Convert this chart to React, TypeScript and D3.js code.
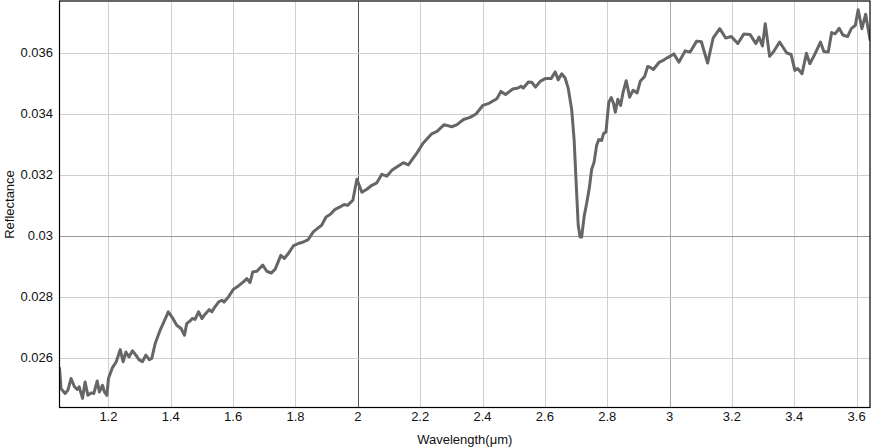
import React from "react";
import * as d3 from "d3";

const wavelength = [
  1.043, 1.048, 1.061, 1.070, 1.080, 1.091, 1.100, 1.106, 1.117, 1.125,
  1.134, 1.145, 1.153, 1.164, 1.171, 1.181, 1.187, 1.195, 1.200, 1.213,
  1.225, 1.238, 1.247, 1.256, 1.266, 1.277, 1.288, 1.298, 1.309, 1.320,
  1.331, 1.339, 1.350, 1.366, 1.380, 1.392, 1.405, 1.419, 1.433, 1.444,
  1.451, 1.462, 1.469, 1.478, 1.489, 1.500, 1.510, 1.523, 1.532, 1.540,
  1.553, 1.564, 1.571, 1.585, 1.601, 1.617, 1.633, 1.644, 1.654, 1.663,
  1.676, 1.695, 1.708, 1.722, 1.735, 1.753, 1.764, 1.777, 1.793, 1.809,
  1.825, 1.841, 1.857, 1.874, 1.884, 1.898, 1.911, 1.927, 1.943, 1.956,
  1.967, 1.984, 1.997, 2.013, 2.029, 2.045, 2.061, 2.077, 2.093, 2.109,
  2.146, 2.162, 2.187, 2.210, 2.237, 2.254, 2.277, 2.301, 2.317, 2.339,
  2.360, 2.379, 2.401, 2.421, 2.446, 2.459, 2.474, 2.497, 2.514, 2.524,
  2.531, 2.547, 2.558, 2.570, 2.585, 2.601, 2.620, 2.633, 2.643, 2.654,
  2.665, 2.675, 2.686, 2.694, 2.700, 2.707, 2.713, 2.718, 2.726, 2.734,
  2.743, 2.750, 2.758, 2.766, 2.773, 2.782, 2.788, 2.796, 2.805, 2.813,
  2.820, 2.826, 2.834, 2.843, 2.851, 2.861, 2.872, 2.883, 2.896, 2.906,
  2.920, 2.930, 2.941, 2.948, 2.966, 2.980, 2.994, 3.014, 3.030, 3.050,
  3.066, 3.087, 3.102, 3.122, 3.140, 3.161, 3.180, 3.198, 3.219, 3.238,
  3.258, 3.277, 3.287, 3.298, 3.307, 3.321, 3.334, 3.353, 3.376, 3.390,
  3.402, 3.411, 3.425, 3.439, 3.450, 3.467, 3.484, 3.495, 3.509, 3.520,
  3.531, 3.544, 3.556, 3.571, 3.583, 3.596, 3.605, 3.617, 3.629, 3.643,
];

const reflectance = [
  0.02565, 0.02498, 0.02482, 0.02493, 0.02531, 0.02504, 0.02495, 0.02504, 0.02466, 0.02520,
  0.02476, 0.02484, 0.02482, 0.02523, 0.02487, 0.02509, 0.02487, 0.02476, 0.02531, 0.02567,
  0.02586, 0.02626, 0.02586, 0.02618, 0.02602, 0.02622, 0.02608, 0.02593, 0.02586, 0.02608,
  0.02593, 0.02597, 0.02646, 0.02690, 0.02722, 0.02750, 0.02731, 0.02706, 0.02695, 0.02673,
  0.02711, 0.02720, 0.02728, 0.02725, 0.02750, 0.02728, 0.02742, 0.02757, 0.02750, 0.02764,
  0.02782, 0.02788, 0.02782, 0.02799, 0.02824, 0.02835, 0.02848, 0.02859, 0.02846, 0.02881,
  0.02883, 0.02903, 0.02883, 0.02877, 0.02890, 0.02935, 0.02925, 0.02941, 0.02966, 0.02974,
  0.02979, 0.02987, 0.03012, 0.03026, 0.03034, 0.03061, 0.03069, 0.03086, 0.03094, 0.03102,
  0.03099, 0.03116, 0.03185, 0.03142, 0.03152, 0.03165, 0.03173, 0.03201, 0.03195, 0.03214,
  0.03239, 0.03232, 0.03267, 0.03304, 0.03334, 0.03342, 0.03364, 0.03357, 0.03363, 0.03381,
  0.03388, 0.03399, 0.03427, 0.03434, 0.03449, 0.03473, 0.03463, 0.03481, 0.03484, 0.03490,
  0.03484, 0.03504, 0.03503, 0.03487, 0.03506, 0.03515, 0.03515, 0.03537, 0.03511, 0.03531,
  0.03517, 0.03483, 0.03414, 0.03312, 0.03181, 0.03034, 0.02995, 0.02995, 0.03063, 0.03105,
  0.03159, 0.03217, 0.03241, 0.03296, 0.03315, 0.03312, 0.03334, 0.03340, 0.03437, 0.03453,
  0.03434, 0.03405, 0.03447, 0.03427, 0.03471, 0.03508, 0.03454, 0.03477, 0.03468, 0.03506,
  0.03522, 0.03555, 0.03550, 0.03545, 0.03568, 0.03575, 0.03584, 0.03596, 0.03569, 0.03606,
  0.03602, 0.03638, 0.03636, 0.03566, 0.03649, 0.03679, 0.03648, 0.03653, 0.03630, 0.03661,
  0.03660, 0.03630, 0.03651, 0.03622, 0.03695, 0.03588, 0.03604, 0.03635, 0.03599, 0.03594,
  0.03542, 0.03548, 0.03531, 0.03598, 0.03564, 0.03597, 0.03635, 0.03604, 0.03602, 0.03666,
  0.03662, 0.03680, 0.03658, 0.03653, 0.03679, 0.03690, 0.03741, 0.03679, 0.03726, 0.03643,
];

const xTicks = [1.2, 1.4, 1.6, 1.8, 2, 2.2, 2.4, 2.6, 2.8, 3, 3.2, 3.4, 3.6];
const yTicks = [0.026, 0.028, 0.03, 0.032, 0.034, 0.036];
const xDomain = [1.043, 3.643];
const yDomain = [0.02436, 0.03768];

const W = 871;
const H = 448;
const left = 59.5;
const right = 870;
const top = 1.5;
const bottom = 407.5;

export default function App() {
  const x = d3.scaleLinear().domain(xDomain).range([left, right]);
  const y = d3.scaleLinear().domain(yDomain).range([bottom, top]);
  const pts = wavelength.map((w, i) => [w, reflectance[i]] as [number, number]);
  const line = d3
    .line<[number, number]>()
    .x((d) => x(d[0]))
    .y((d) => y(d[1]));

  const font = "'Liberation Sans', Arial, Helvetica, sans-serif";

  const vColor = (t: number) => (t === 2 ? "#555" : t === 3 ? "#aaa" : "#cfcfcf");
  const hColor = (t: number) => (Math.abs(t - 0.03) < 1e-9 ? "#9a9a9a" : "#cfcfcf");

  return (
    <svg
      width={W}
      height={H}
      style={{ position: "absolute", left: 0, top: 0, background: "#fff" }}
      fontFamily={font}
    >
      <defs>
        <clipPath id="plot">
          <rect x={left} y={top} width={right - left} height={bottom - top} />
        </clipPath>
      </defs>
      {xTicks.map((t) => (
        <line
          key={"vx" + t}
          x1={Math.round(x(t)) + 0.5}
          x2={Math.round(x(t)) + 0.5}
          y1={top}
          y2={bottom}
          stroke={vColor(t)}
          strokeWidth={1}
        />
      ))}
      {yTicks.map((t) => (
        <line
          key={"hy" + t}
          x1={left}
          x2={right}
          y1={Math.round(y(t)) + 0.5}
          y2={Math.round(y(t)) + 0.5}
          stroke={hColor(t)}
          strokeWidth={1}
        />
      ))}
      <g clipPath="url(#plot)">
        <path
          d={line(pts) || ""}
          fill="none"
          stroke="#666"
          strokeWidth={3}
          strokeLinejoin="round"
          strokeLinecap="round"
        />
      </g>
      <rect
        x={left}
        y={top - 0.5}
        width={right - left}
        height={bottom - top + 0.5}
        fill="none"
        stroke="#000"
        strokeWidth={1.2}
      />
      {xTicks.map((t) => (
        <text
          key={"tx" + t}
          x={x(t)}
          y={421}
          textAnchor="middle"
          fontSize={13}
          fill="#111"
        >
          {String(t)}
        </text>
      ))}
      {yTicks.map((t) => (
        <text
          key={"ty" + t}
          x={53}
          y={y(t) + 4.5}
          textAnchor="end"
          fontSize={13}
          fill="#111"
        >
          {String(t)}
        </text>
      ))}
      <text x={(left + right) / 2} y={444} textAnchor="middle" fontSize={13} fill="#111">
        Wavelength(μm)
      </text>
      <text
        transform={`translate(14,${(top + bottom) / 2}) rotate(-90)`}
        textAnchor="middle"
        fontSize={13}
        fill="#111"
      >
        Reflectance
      </text>
    </svg>
  );
}
